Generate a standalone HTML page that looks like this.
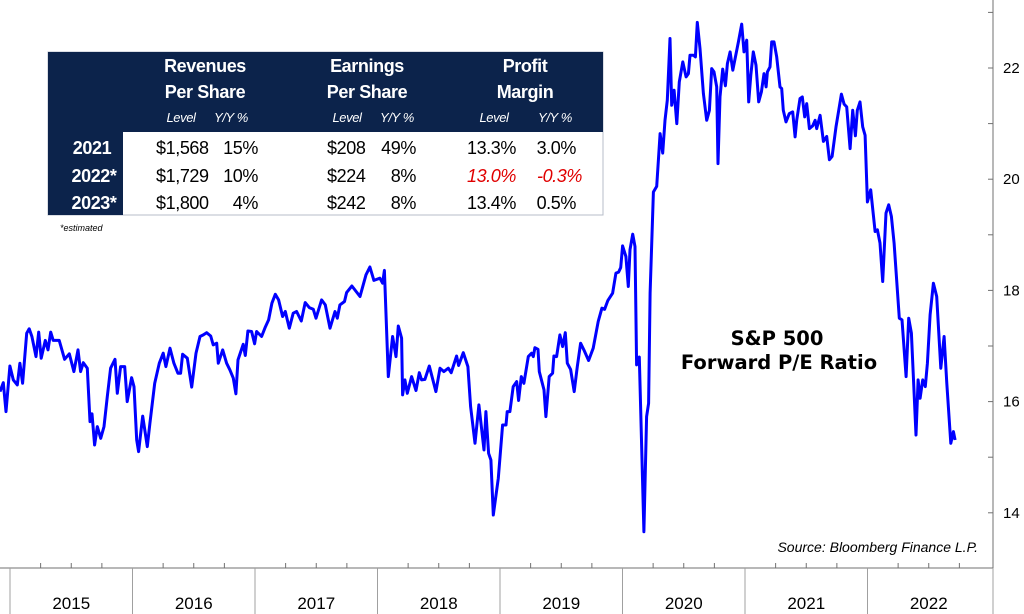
<!DOCTYPE html>
<html><head><meta charset="utf-8">
<style>
html,body{margin:0;padding:0;background:#fff;}
svg{display:block;}
.nar{font-family:"Liberation Sans Narrow","Liberation Sans",Arial,sans-serif;}
</style></head>
<body>
<svg id="chart" width="1024" height="614" viewBox="0 0 1024 614" xmlns="http://www.w3.org/2000/svg">
  <g id="axes"></g>
  <g id="series"></g>
  <g font-family="DejaVu Sans, sans-serif" font-weight="bold" font-size="19.5" text-anchor="middle" fill="#000">
    <text x="777" y="345">S&amp;P 500</text>
    <text x="779" y="369">Forward P/E Ratio</text>
  </g>
  <text x="978" y="552" text-anchor="end" font-family="Liberation Sans Narrow, Liberation Sans, sans-serif" font-style="italic" font-size="14" fill="#000">Source: Bloomberg Finance L.P.</text>

  <g class="nar" letter-spacing="-0.4">
    <rect x="48" y="52" width="555" height="163" fill="#fff" stroke="#b7bcc8" stroke-width="1"/>
    <rect x="48" y="52" width="555" height="80" fill="#0c234b"/>
    <rect x="48" y="52" width="75" height="163" fill="#0c234b"/>
    <g fill="#fff" font-weight="bold" font-size="18" text-anchor="middle">
      <text x="205" y="72">Revenues</text>
      <text x="205" y="98">Per Share</text>
      <text x="367" y="72">Earnings</text>
      <text x="367" y="98">Per Share</text>
      <text x="525" y="72">Profit</text>
      <text x="525" y="98">Margin</text>
    </g>
    <g fill="#fff" font-style="italic" font-size="13" text-anchor="middle">
      <text x="181" y="122">Level</text>
      <text x="231" y="122">Y/Y %</text>
      <text x="347" y="122">Level</text>
      <text x="397" y="122">Y/Y %</text>
      <text x="494" y="122">Level</text>
      <text x="555" y="122">Y/Y %</text>
    </g>
    <g fill="#fff" font-weight="bold" font-size="18" text-anchor="middle">
      <text x="92" y="154">2021</text>
      <text x="94" y="182">2022*</text>
      <text x="94" y="209">2023*</text>
    </g>
    <g fill="#000" font-size="18">
      <text x="156" y="154">$1,568</text>
      <text x="258" y="154" text-anchor="end">15%</text>
      <text x="327" y="154">$208</text>
      <text x="416" y="154" text-anchor="end">49%</text>
      <text x="516" y="154" text-anchor="end">13.3%</text>
      <text x="576" y="154" text-anchor="end">3.0%</text>

      <text x="156" y="182">$1,729</text>
      <text x="258" y="182" text-anchor="end">10%</text>
      <text x="327" y="182">$224</text>
      <text x="416" y="182" text-anchor="end">8%</text>
      <text x="516" y="182" text-anchor="end" fill="#e00000" font-style="italic">13.0%</text>
      <text x="582" y="182" text-anchor="end" fill="#e00000" font-style="italic">-0.3%</text>

      <text x="156" y="209">$1,800</text>
      <text x="258" y="209" text-anchor="end">4%</text>
      <text x="327" y="209">$242</text>
      <text x="416" y="209" text-anchor="end">8%</text>
      <text x="516" y="209" text-anchor="end">13.4%</text>
      <text x="576" y="209" text-anchor="end">0.5%</text>
    </g>
    <text x="60" y="231" font-family="Liberation Sans, sans-serif" font-style="italic" font-size="9" fill="#000" letter-spacing="0">*estimated</text>
  </g>
</svg>
<script>
const years = [2015, 2016, 2017, 2018, 2019, 2020, 2021, 2022];
const yTicks = [14, 15, 16, 17, 18, 19, 20, 21, 22, 23];
const yLabels = [14, 16, 18, 20, 22];
const dates = [2014.918,2014.945,2014.967,2014.999,2015.027,2015.060,2015.081,2015.103,2015.136,2015.157,2015.179,2015.212,2015.234,2015.255,2015.288,2015.310,2015.332,2015.353,2015.402,2015.446,2015.484,2015.522,2015.555,2015.576,2015.598,2015.631,2015.653,2015.669,2015.691,2015.713,2015.740,2015.767,2015.794,2015.821,2015.857,2015.876,2015.903,2015.936,2015.957,2015.993,2016.012,2016.034,2016.050,2016.083,2016.121,2016.142,2016.181,2016.219,2016.251,2016.273,2016.306,2016.338,2016.371,2016.393,2016.409,2016.447,2016.483,2016.518,2016.551,2016.578,2016.605,2016.638,2016.659,2016.687,2016.700,2016.736,2016.768,2016.795,2016.823,2016.844,2016.861,2016.904,2016.921,2016.942,2016.972,2016.997,2017.013,2017.054,2017.084,2017.111,2017.138,2017.166,2017.193,2017.225,2017.247,2017.280,2017.312,2017.340,2017.378,2017.410,2017.443,2017.476,2017.498,2017.544,2017.574,2017.612,2017.653,2017.672,2017.693,2017.731,2017.748,2017.791,2017.857,2017.906,2017.938,2017.971,2018.020,2018.042,2018.056,
2018.088,2018.123,2018.151,2018.170,2018.197,2018.205,2018.224,2018.243,2018.278,2018.314,2018.341,2018.360,2018.387,2018.423,2018.477,2018.510,2018.542,2018.578,2018.602,2018.646,2018.662,2018.700,2018.738,2018.760,2018.796,2018.828,2018.869,2018.885,2018.907,2018.926,2018.945,2018.986,2019.021,2019.049,2019.059,2019.081,2019.108,2019.136,2019.152,2019.174,2019.195,2019.231,2019.258,2019.272,2019.285,2019.310,2019.321,2019.359,2019.375,2019.402,2019.429,2019.440,2019.462,2019.489,2019.511,2019.533,2019.549,2019.576,2019.606,2019.631,2019.658,2019.685,2019.723,2019.761,2019.802,2019.832,2019.854,2019.881,2019.919,2019.946,2019.968,2019.985,2020.001,2020.028,2020.047,2020.061,2020.083,2020.102,2020.115,2020.137,2020.175,2020.197,2020.213,
2020.225,2020.252,2020.279,2020.307,2020.328,2020.347,2020.366,2020.388,2020.402,2020.421,2020.443,2020.464,2020.492,2020.519,2020.538,2020.551,2020.579,2020.595,2020.611,2020.633,2020.660,2020.687,2020.709,2020.728,2020.747,2020.769,2020.780,2020.796,2020.818,2020.840,2020.856,2020.878,2020.900,2020.946,2020.973,2020.992,2021.014,2021.030,2021.047,2021.068,2021.090,2021.112,2021.134,2021.155,2021.172,2021.183,2021.204,2021.218,2021.237,2021.259,2021.286,2021.300,2021.313,2021.335,2021.362,2021.389,2021.409,2021.422,2021.449,2021.468,2021.487,2021.504,2021.526,2021.553,2021.572,2021.585,2021.613,2021.640,2021.667,2021.689,2021.711,2021.743,2021.787,2021.809,2021.830,2021.858,2021.879,2021.901,2021.917,2021.939,2021.961,2021.980,2021.999,2022.026,2022.062,2022.081,2022.102,2022.124,2022.151,2022.173,2022.195,2022.217,2022.260,2022.282,2022.315,2022.336,2022.358,2022.396,2022.413,2022.429,2022.451,2022.472,2022.489,2022.511,2022.538,2022.565,2022.598,2022.625,2022.647,2022.680,2022.701,2022.715];
const peValues = [16.18,16.34,15.82,16.64,16.39,16.30,16.69,16.33,17.23,17.31,17.17,16.81,17.25,16.78,17.10,16.93,17.25,17.10,17.10,16.76,16.86,16.54,16.93,16.54,16.70,16.60,15.64,15.78,15.22,15.55,15.34,15.55,16.09,16.60,16.76,16.15,16.63,16.63,16.00,16.43,16.27,15.31,15.10,15.74,15.19,15.61,16.33,16.69,16.87,16.63,16.96,16.69,16.51,16.51,16.85,16.78,16.26,16.87,17.17,17.20,17.24,17.18,17.02,17.05,16.69,16.93,16.69,16.57,16.42,16.14,16.75,17.03,16.83,17.27,17.26,17.04,17.26,17.17,17.34,17.47,17.77,17.93,17.83,17.53,17.62,17.32,17.59,17.62,17.45,17.78,17.69,17.66,17.50,17.83,17.74,17.32,17.62,17.50,17.74,17.80,17.96,18.08,17.89,18.28,18.42,18.18,18.22,18.13,18.36,
16.45,17.17,16.81,17.36,17.14,16.12,16.39,16.15,16.45,16.20,16.52,16.39,16.40,16.64,16.18,16.60,16.54,16.60,16.52,16.82,16.65,16.88,16.63,15.91,15.25,15.94,15.13,15.82,15.07,14.95,13.96,14.62,15.58,15.58,15.82,15.82,16.27,16.36,16.02,16.45,16.33,16.81,16.87,16.81,16.97,16.94,16.54,16.21,15.73,16.45,16.51,16.82,16.81,17.20,16.99,17.24,16.69,16.58,16.18,16.63,17.05,16.93,16.74,16.96,17.44,17.68,17.66,17.82,17.95,18.31,18.33,18.41,18.80,18.61,18.07,18.73,19.01,18.79,16.66,16.80,13.66,15.73,15.97,
17.95,19.77,19.87,20.82,20.47,21.06,21.42,22.53,21.33,21.60,21.00,21.75,22.11,21.84,21.90,22.23,22.23,22.20,22.82,22.35,21.54,21.06,21.24,21.99,21.93,21.66,20.28,21.48,21.98,21.68,22.08,22.29,21.96,22.47,22.79,22.29,22.50,21.39,21.87,22.29,22.05,21.39,21.57,21.90,21.66,21.93,22.02,22.47,22.47,22.20,21.66,21.63,21.24,21.03,21.18,21.21,20.76,21.06,21.45,21.48,21.12,21.36,20.91,20.96,21.06,20.91,21.15,20.68,20.77,20.35,20.41,20.94,21.53,21.35,21.30,20.55,21.24,20.78,21.24,21.39,20.94,20.79,19.59,19.81,19.06,19.09,18.85,18.16,19.39,19.54,19.33,18.85,17.50,17.47,16.45,17.50,17.23,15.40,16.39,16.06,16.39,16.27,16.69,17.56,18.13,17.89,16.60,17.17,16.33,15.25,15.46,15.31];

const NS = 'http://www.w3.org/2000/svg';
function xScale(t){ return 10 + (t - 2015) * 122.5; }
function yScale(v){ return 68 + (22 - v) * 55.6; }
function mk(tag, attrs, parent){
  const e = document.createElementNS(NS, tag);
  for (const k in attrs) e.setAttribute(k, attrs[k]);
  parent.appendChild(e);
  return e;
}
const axes = document.getElementById('axes');
const AXY = 568, RX = 993;

const xline = mk('line', {x1:0, y1:AXY, x2:RX, y2:AXY, stroke:'#707070', 'stroke-width':1}, axes);


const yline = mk('line', {x1:RX, y1:0, x2:RX, y2:AXY, stroke:'#707070', 'stroke-width':1}, axes);



years.forEach(function(y){
  const x0 = xScale(y);
  const sep = mk('line', {x1:x0, y1:AXY, x2:x0, y2:614, stroke:'#a0a0a0', 'stroke-width':1}, axes);
  
  
  for (let q = 1; q < 4; q++){
    const tx = xScale(y + q/4);
    if (tx >= RX) continue;
    const tk = mk('line', {x1:tx, y1:AXY, x2:tx, y2:AXY-5, stroke:'#707070', 'stroke-width':1}, axes);
    
    
  }
  const xe = Math.min(xScale(y + 1), RX);
  const lbl = mk('text', {x:(x0 + xe)/2, y:609, 'text-anchor':'middle', 'font-family':'Liberation Sans, sans-serif', 'font-size':17, fill:'#000'}, axes);
  lbl.textContent = String(y);
  
  
});
const endSep = mk('line', {x1:RX, y1:AXY, x2:RX, y2:614, stroke:'#a0a0a0', 'stroke-width':1}, axes);



yTicks.forEach(function(v){
  const yy = yScale(v);
  const tk = mk('line', {x1:RX-5, y1:yy, x2:RX, y2:yy, stroke:'#707070', 'stroke-width':1}, axes);
  
  
});
yLabels.forEach(function(v){
  const t = mk('text', {x:1003, y:yScale(v)+5, 'font-family':'Liberation Sans, sans-serif', 'font-size':15, fill:'#000'}, axes);
  t.textContent = String(v);
  
  
});

const series = document.getElementById('series');
let d = '';
for (let i = 0; i < dates.length; i++){
  d += (i ? 'L' : 'M') + xScale(dates[i]).toFixed(1) + ',' + yScale(peValues[i]).toFixed(1);
}
const path = mk('path', {d:d, fill:'none', stroke:'#0000ff', 'stroke-width':3, 'stroke-linejoin':'round'}, series);


</script>
</body></html>
